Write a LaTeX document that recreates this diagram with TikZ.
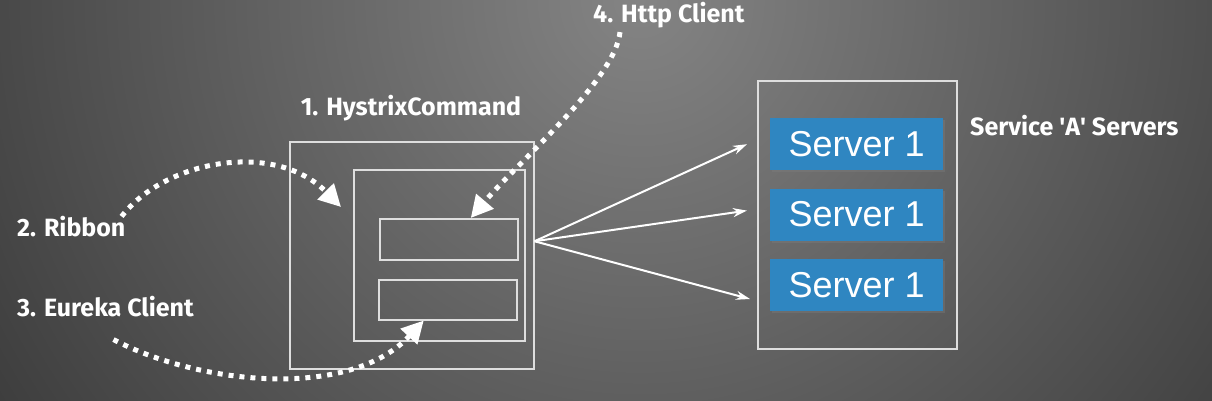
\documentclass[tikz,border=0pt]{standalone}
\usepackage{fontspec}
\setmainfont{Fira Sans}
\newfontfamily\serverfont{Liberation Sans}
\usetikzlibrary{arrows.meta,positioning,shadows}
\definecolor{bgcenter}{RGB}{132,132,132}
\definecolor{bgedge}{RGB}{56,56,56}
\definecolor{frame}{RGB}{222,222,222}
\definecolor{serverblue}{RGB}{47,134,193}

\tikzset{
  box/.style={draw=frame, line width=1.5pt, anchor=north west, inner sep=0pt},
  server/.style={fill=serverblue, text=white, inner sep=0pt,
    font=\serverfont\fontsize{36}{40}\selectfont,
    minimum width=173pt, minimum height=52pt,
    drop shadow={opacity=0.35, shadow xshift=2pt, shadow yshift=-2pt}},
  lbl/.style={text=white, inner sep=0pt, font=\bfseries\fontsize{25}{28}\selectfont},
  hop/.style={draw=white, line width=5pt, dash pattern=on 5pt off 6pt,
    -{Triangle[length=22pt,width=22pt]}},
  call/.style={draw=white, line width=2pt, -{Stealth[length=14pt,width=9pt]}}
}

\begin{document}
\begin{tikzpicture}[x=1pt,y=-1pt]

\useasboundingbox (0,0) rectangle (1212,400);
\fill[bgedge] (0,0) rectangle (1212,400);
\begin{scope}
\clip (0,0) rectangle (1212,400);
\shade[inner color=bgcenter, outer color=bgedge] (640,0) circle (820);
\end{scope}

% hystrix command and its parts
\node[box, minimum width=244pt, minimum height=227pt] (hystrix) at (289,141) {};
\node[box, minimum width=171pt, minimum height=171pt] (worker) at (353,169) {};
\node[box, minimum width=138pt, minimum height=41pt] (slotA) at (379,218) {};
\node[box, minimum width=138pt, minimum height=40pt] (slotB) at (378,279) {};

% servers
\node[box, minimum width=199pt, minimum height=268pt] (service) at (757,80) {};
\node[server, anchor=north west] (srv1) at (770,118) {Server 1};
\node[server, below=18pt of srv1] (srv2) {Server 1};
\node[server, below=18pt of srv2] (srv3) {Server 1};

\node[lbl] (hystrixlbl) at (411,108) {1. HystrixCommand};
\node[lbl, anchor=west] (ribbonlbl) at (17,227) {2. Ribbon};
\node[lbl, anchor=west] (eurekalbl) at (17,307) {3. Eureka Client};
\node[lbl, anchor=west] (httplbl) at (593,15) {4. Http Client};
\node[lbl, anchor=west] (servicelbl) at (970,126) {Service \textquotesingle A\textquotesingle{} Servers};

\draw[hop] ([xshift=-4pt]ribbonlbl.north east) .. controls (165,160) and (275,140) .. ([xshift=-12pt,yshift=-38pt]worker.north west);
\draw[hop] ([xshift=8pt,yshift=-22pt]eurekalbl.south) .. controls (200,385) and (350,400) .. ([xshift=-24pt]slotB.south);
\draw[hop] ([xshift=27pt,yshift=-4pt]httplbl.south west) .. controls (615,80) and (520,160) .. ([xshift=22pt]slotA.north);

\coordinate (fan) at ([yshift=14pt]hystrix.east);
\draw[call] (fan) -- ([xshift=-23pt]srv1.west);
\draw[call] (fan) -- ([xshift=-23pt,yshift=4pt]srv2.west);
\draw[call] (fan) -- ([xshift=-20pt,yshift=-14pt]srv3.west);

\end{tikzpicture}
\end{document}
